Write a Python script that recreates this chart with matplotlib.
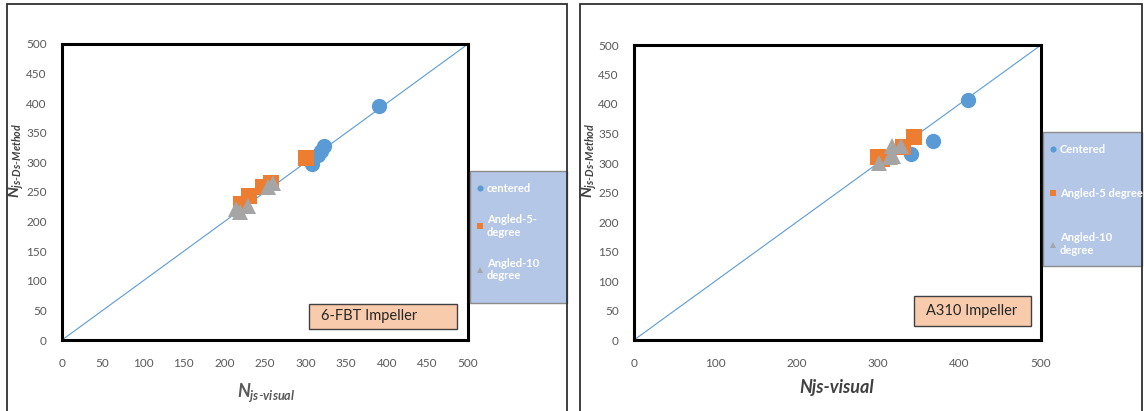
import matplotlib
matplotlib.use("Agg")
import matplotlib.pyplot as plt
from matplotlib.patches import Rectangle

plt.rcParams['font.family'] = ['Lato', 'DejaVu Sans']
plt.rcParams['mathtext.fontset'] = 'custom'
plt.rcParams['mathtext.it'] = 'Lato:italic:bold'
plt.rcParams['mathtext.rm'] = 'Lato'

# 6-FBT impeller
fbt_centered_x = [308, 315, 319, 323, 390]
fbt_centered_y = [298, 312, 320, 327, 395]
fbt_ang5_x = [221, 230, 247, 258, 300]
fbt_ang5_y = [229, 243, 258, 266, 308]
fbt_ang10_x = [214, 219, 229, 254, 260]
fbt_ang10_y = [222, 217, 226, 259, 265]

# A310 impeller
a310_centered_x = [340, 367, 410]
a310_centered_y = [315, 337, 407]
a310_ang5_x = [300, 305, 330, 344]
a310_ang5_y = [310, 306, 327, 344]
a310_ang10_x = [301, 314, 318, 317, 328]
a310_ang10_y = [300, 310, 312, 328, 328]

BLUE = '#5B9BD5'
ORANGE = '#ED7D31'
GRAY = '#A5A5A5'
TICK = '#595959'

W, H = 1144, 411
fig = plt.figure(figsize=(W / 100, H / 100), dpi=100)


def fx(px):
    return px / W


def fy(py):
    return 1 - py / H


# outer frames of both panels
for x0, x1 in [(7, 567), (580, 1142)]:
    fig.patches.append(Rectangle((fx(x0), fy(430)), fx(x1 - x0), (430 - 4) / H,
                                 transform=fig.transFigure, fill=False,
                                 edgecolor='#303030', linewidth=1.3))


def panel(rect, series, xticks, label_box, box_text, leg_rect, leg_labels, spacing):
    x0, y0, x1, y1 = rect
    ax = fig.add_axes([fx(x0), fy(y1), fx(x1 - x0), (y1 - y0) / H])
    ax.plot([0, 500], [0, 500], color=BLUE, linewidth=0.8, zorder=1)
    handles = []
    for (xs, ys, mk, ms, col) in series:
        h, = ax.plot(xs, ys, linestyle='none', marker=mk, markersize=ms,
                     color=col, markeredgewidth=0, zorder=3)
        handles.append(h)
    ax.set_xlim(0, 500)
    ax.set_ylim(0, 500)
    ax.set_xticks(xticks)
    ax.set_yticks(range(0, 501, 50))
    ax.tick_params(length=0, labelsize=8.5, labelcolor=TICK, pad=11)
    ax.tick_params(axis='x', pad=13)
    for s in ax.spines.values():
        s.set_linewidth(2.2)
        s.set_color('black')

    bx0, by0, bx1, by1 = label_box
    ax.add_patch(Rectangle((bx0, by0), bx1 - bx0, by1 - by0, transform=ax.transAxes,
                           facecolor='#F8CBAD', edgecolor='#404040', linewidth=1.0,
                           zorder=4))
    ax.text(bx0 + 0.03, (by0 + by1) / 2, box_text, transform=ax.transAxes,
            ha='left', va='center', fontsize=10.5, color='#262626', zorder=5)

    lx0, ly0, lx1, ly1 = leg_rect
    fig.patches.append(Rectangle((fx(lx0), fy(ly1)), fx(lx1 - lx0), (ly1 - ly0) / H,
                                 transform=fig.transFigure, facecolor='#B4C7E7',
                                 edgecolor='#8C8C8C', linewidth=1.0, zorder=0))
    fig.legend(handles, leg_labels, loc='upper left',
               bbox_to_anchor=(fx(lx0 - 1), fy(ly0 + 4)), frameon=False,
               handlelength=0.6, handletextpad=0.3, markerscale=0.4,
               labelspacing=spacing, borderpad=0.2,
               prop={'size': 8, 'weight': 'bold'}, labelcolor='white')
    return ax


ax1 = panel((62, 44, 468, 340),
            [(fbt_centered_x, fbt_centered_y, 'o', 11, BLUE),
             (fbt_ang5_x, fbt_ang5_y, 's', 11, ORANGE),
             (fbt_ang10_x, fbt_ang10_y, '^', 12, GRAY)],
            range(0, 501, 50), (0.608, 0.037, 0.973, 0.122), '6-FBT Impeller',
            (470, 171, 567, 303), ['centered', 'Angled-5-\ndegree', 'Angled-10\ndegree'],
            1.8)
fig.text(fx(266), fy(393), r'$N_{js\text{-}visual}$', ha='center', va='center',
         fontsize=13, color='#595959')
fig.text(fx(16), fy(160), r'$N_{js\text{-}Ds\text{-}Method}$', ha='center', va='center',
         rotation=90, fontsize=11, color='#404040')

ax2 = panel((634, 45, 1041, 340),
            [(a310_centered_x, a310_centered_y, 'o', 11, BLUE),
             (a310_ang5_x, a310_ang5_y, 's', 11, ORANGE),
             (a310_ang10_x, a310_ang10_y, '^', 12, GRAY)],
            range(0, 501, 100), (0.688, 0.047, 0.975, 0.149), 'A310 Impeller',
            (1043, 132, 1142, 266), ['Centered', 'Angled-5 degree', 'Angled-10\ndegree'],
            3.0)
fig.text(fx(837), fy(387), 'Njs-visual', ha='center', va='center', fontsize=13,
         style='italic', weight='bold', color='#404040')
fig.text(fx(589), fy(160), r'$N_{js\text{-}Ds\text{-}Method}$', ha='center', va='center',
         rotation=90, fontsize=11, color='#404040')

fig.savefig('out.png', dpi=100)
